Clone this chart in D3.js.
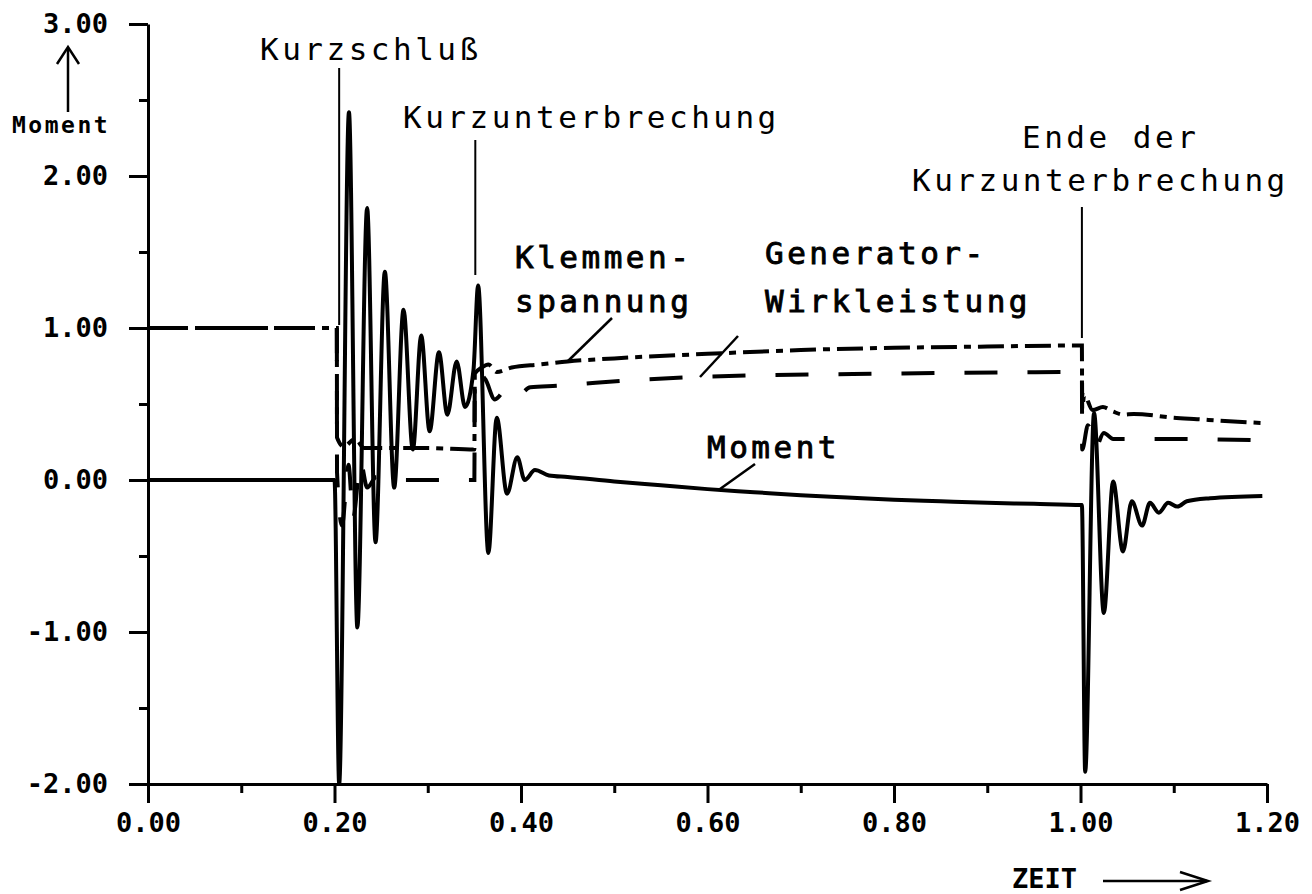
<!DOCTYPE html>
<html>
<head>
<meta charset="utf-8">
<script src="https://cdn.jsdelivr.net/npm/d3@7"></script>
<style>
  html, body { margin: 0; padding: 0; background: #fff; }
  svg { display: block; }
  .tick-label { font-family: "DejaVu Sans Mono", monospace; font-weight: bold; font-size: 27px; fill: #000; }
  .note { font-family: "DejaVu Sans Mono", monospace; font-size: 31px; letter-spacing: 3.5px; fill: #000; }
  .note-bold { font-family: "DejaVu Sans Mono", monospace; font-size: 31px; letter-spacing: 3.5px; fill: #000; stroke: #000; stroke-width: 0.9px; }
</style>
</head>
<body>
<svg id="chart" width="1312" height="894"></svg>
<script>
// ---- axis ticks ----
const xMajor = [0, 0.2, 0.4, 0.6, 0.8, 1.0, 1.2];
const xMajorLabels = ["0.00", "0.20", "0.40", "0.60", "0.80", "1.00", "1.20"];
const xMinor = [0.1, 0.3, 0.5, 0.7, 0.9, 1.1];
const yMajor = [-2, -1, 0, 1, 2, 3];
const yMajorLabels = ["-2.00", "-1.00", "0.00", "1.00", "2.00", "3.00"];
const yMinor = [-1.5, -0.5, 0.5, 1.5, 2.5];

// ---- series: [time, value] ----
// Moment (solid)
const moment = [
  [0, 0], [0.2, 0], [0.205, -2.0], [0.2155, 2.42], [0.2245, -0.97], [0.235, 1.79],
  [0.244, -0.41], [0.254, 1.37], [0.264, -0.05], [0.274, 1.12], [0.284, 0.2],
  [0.293, 0.95], [0.302, 0.32], [0.312, 0.84], [0.321, 0.43], [0.331, 0.78],
  [0.340, 0.48], [0.349, 0.72], [0.354, 1.28], [0.365, -0.48], [0.374, 0.41],
  [0.385, -0.09], [0.396, 0.15], [0.404, 0.0], [0.415, 0.065], [0.43, 0.03],
  [0.45, 0.02], [0.5, -0.01], [0.55, -0.035], [0.6, -0.06], [0.65, -0.08],
  [0.7, -0.10], [0.75, -0.115], [0.8, -0.13], [0.85, -0.14], [0.9, -0.15],
  [0.95, -0.157], [1.0015, -0.165], [1.005, -1.92], [1.0145, 0.44], [1.025, -0.875],
  [1.035, -0.01], [1.0455, -0.47], [1.055, -0.14], [1.066, -0.30], [1.0745, -0.15],
  [1.084, -0.215], [1.094, -0.15], [1.104, -0.175], [1.114, -0.14], [1.139, -0.12],
  [1.195, -0.105]
];

// Klemmenspannung (dash-dot)
const klemmenspannung = [
  [0, 1.0], [0.2025, 1.0], [0.2027, 0.28], [0.21, 0.22], [0.222, 0.27], [0.232, 0.21],
  [0.30, 0.21], [0.3500, 0.20], [0.3505, 0.70], [0.358, 0.74], [0.365, 0.76],
  [0.374, 0.71], [0.39, 0.74], [0.42, 0.76], [0.45, 0.78], [0.5, 0.80], [0.6, 0.83],
  [0.7, 0.855], [0.8, 0.87], [0.9, 0.878], [1.0015, 0.885], [1.0018, 0.47],
  [1.004, 0.56], [1.013, 0.46], [1.024, 0.48], [1.035, 0.45], [1.046, 0.43],
  [1.057, 0.435], [1.1, 0.41], [1.125, 0.40], [1.15, 0.39], [1.195, 0.375]
];

// Generator-Wirkleistung (dashed)
const wirkleistung = [
  [0, 1.0], [0.2025, 1.0], [0.2027, 0.05], [0.208, -0.3], [0.215, 0.1], [0.22, -0.25],
  [0.228, 0.12], [0.235, -0.05], [0.245, 0.02], [0.26, 0], [0.35, 0], [0.3505, 0.72],
  [0.362, 0.66], [0.372, 0.53], [0.385, 0.60], [0.397, 0.56], [0.41, 0.61],
  [0.44, 0.62], [0.48, 0.64], [0.6, 0.68], [0.8, 0.70], [1.0015, 0.71],
  [1.0018, 0.2], [1.008, 0.36], [1.016, 0.21], [1.025, 0.31], [1.035, 0.27],
  [1.1, 0.27], [1.2, 0.26]
];

const svg = d3.select("#chart");
const x = d3.scaleLinear().domain([0, 1.2]).range([148, 1267]);
const y = d3.scaleLinear().domain([-2, 3]).range([784, 24]);

// ---- axes ----
function styleAxis(g) {
  g.select(".domain").attr("stroke", "#000").attr("stroke-width", 3);
  g.selectAll(".tick line").attr("stroke", "#000").attr("stroke-width", 3);
}

svg.append("g")
  .attr("transform", `translate(0,${y(-2)})`)
  .call(d3.axisBottom(x).tickValues(xMinor).tickSize(9).tickFormat(""))
  .call(styleAxis)
  .call(g => g.select(".domain").remove());

svg.append("g")
  .attr("transform", `translate(0,${y(-2)})`)
  .call(d3.axisBottom(x).tickValues(xMajor).tickSize(19).tickSizeOuter(0).tickPadding(10)
    .tickFormat((d, i) => xMajorLabels[i]))
  .call(styleAxis)
  .call(g => g.selectAll("text").attr("class", "tick-label").attr("font-family", null).attr("font-size", null).attr("fill", null));

svg.append("g")
  .attr("transform", `translate(${x(0)},0)`)
  .call(d3.axisLeft(y).tickValues(yMinor).tickSize(9).tickFormat(""))
  .call(styleAxis)
  .call(g => g.select(".domain").remove());

svg.append("g")
  .attr("transform", `translate(${x(0)},0)`)
  .call(d3.axisLeft(y).tickValues(yMajor).tickSize(19).tickSizeOuter(0).tickPadding(21)
    .tickFormat((d, i) => yMajorLabels[i]))
  .call(styleAxis)
  .call(g => g.selectAll("text").attr("class", "tick-label").attr("font-family", null).attr("font-size", null).attr("fill", null));

// ---- axis titles ----
svg.append("text").attr("class", "tick-label").attr("x", 12).attr("y", 133)
  .style("font-size", "23px").style("letter-spacing", "2.5px").text("Moment");
svg.append("line").attr("x1", 68).attr("x2", 68).attr("y1", 48).attr("y2", 112)
  .attr("stroke", "#000").attr("stroke-width", 2.5);
svg.append("path").attr("d", "M57,64 L68,47 L79,64").attr("fill", "none")
  .attr("stroke", "#000").attr("stroke-width", 2.5);

svg.append("text").attr("class", "tick-label").attr("x", 1012).attr("y", 888).text("ZEIT");
svg.append("line").attr("x1", 1103).attr("x2", 1207).attr("y1", 881).attr("y2", 881)
  .attr("stroke", "#000").attr("stroke-width", 2.5);
svg.append("path").attr("d", "M1180,872 L1208,881 L1180,890").attr("fill", "none")
  .attr("stroke", "#000").attr("stroke-width", 2.5);

// ---- curves ----
const line = d3.line().x(d => x(d[0])).y(d => y(d[1])).curve(d3.curveMonotoneX);

svg.append("path").datum(wirkleistung).attr("d", line).attr("fill", "none")
  .attr("stroke", "#000").attr("stroke-width", 4).attr("stroke-dasharray", "33,30");
svg.append("path").datum(klemmenspannung).attr("d", line).attr("fill", "none")
  .attr("stroke", "#000").attr("stroke-width", 4).attr("stroke-dasharray", "26,7,7,7");
svg.append("path").datum(moment).attr("d", line).attr("fill", "none")
  .attr("stroke", "#000").attr("stroke-width", 4).attr("stroke-linejoin", "round");

// ---- event markers and annotations ----
const markers = [
  { t: 0.205, y1: 68, y2: 325 },
  { t: 0.351, y1: 140, y2: 275 },
  { t: 1.0015, y1: 207, y2: 338 }
];
svg.selectAll(".marker").data(markers).join("line")
  .attr("x1", d => x(d.t)).attr("x2", d => x(d.t))
  .attr("y1", d => d.y1).attr("y2", d => d.y2)
  .attr("stroke", "#000").attr("stroke-width", 2);

const notes = [
  { text: "Kurzschluß", x: 260, y: 60, cls: "note" },
  { text: "Kurzunterbrechung", x: 403, y: 128, cls: "note" },
  { text: "Ende der", x: 1022, y: 148, cls: "note" },
  { text: "Kurzunterbrechung", x: 912, y: 191, cls: "note" },
  { text: "Klemmen-", x: 515, y: 268, cls: "note-bold" },
  { text: "spannung", x: 515, y: 312, cls: "note-bold" },
  { text: "Generator-", x: 765, y: 264, cls: "note-bold" },
  { text: "Wirkleistung", x: 765, y: 312, cls: "note-bold" },
  { text: "Moment", x: 707, y: 458, cls: "note-bold" }
];
svg.selectAll(".note-text").data(notes).join("text")
  .attr("class", d => d.cls).attr("x", d => d.x).attr("y", d => d.y).text(d => d.text);

const leaders = [
  [[567, 362], [612, 318]],
  [[700, 377], [738, 336]],
  [[720, 489], [755, 464]]
];
svg.selectAll(".leader").data(leaders).join("line")
  .attr("x1", d => d[0][0]).attr("y1", d => d[0][1])
  .attr("x2", d => d[1][0]).attr("y2", d => d[1][1])
  .attr("stroke", "#000").attr("stroke-width", 2.5);
</script>
</body>
</html>
